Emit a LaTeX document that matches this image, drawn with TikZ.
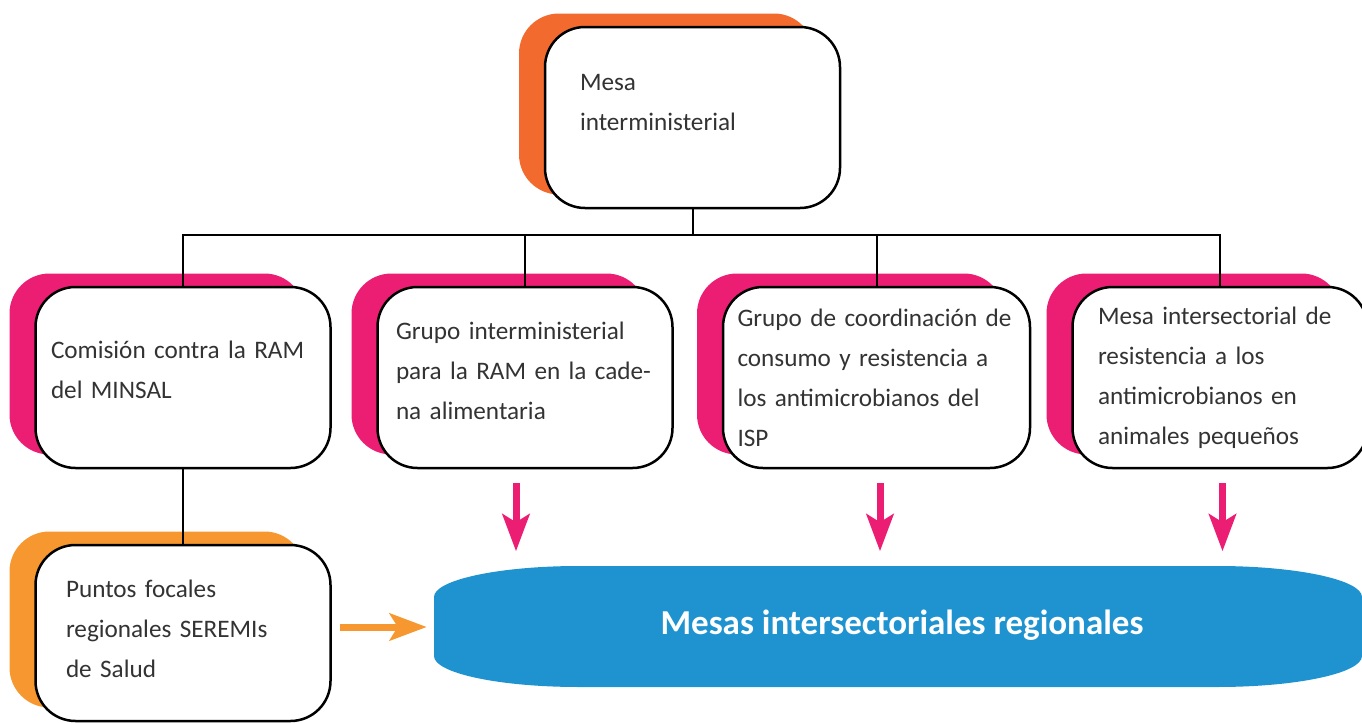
\documentclass[tikz,border=0pt]{standalone}
\usepackage{fontspec}
\setmainfont{Carlito}
\usetikzlibrary{shadows,arrows.meta}
\definecolor{naranja}{HTML}{F26A2D}
\definecolor{rosa}{HTML}{EC1E74}
\definecolor{ambar}{HTML}{F6982F}
\definecolor{azul}{HTML}{1F93D0}
\definecolor{gris}{HTML}{333333}
\tikzset{
  caja/.style={draw=black, line width=1.25pt, fill=white, rounded corners=20pt,
    minimum width=147.5pt, minimum height=90.5pt, inner sep=0pt, align=left,
    text=gris, font=\fontsize{12.6}{20}\selectfont,
    general shadow={fill=#1, shadow xshift=-13pt, shadow yshift=6.75pt}},
  linea/.style={line width=1pt},
  flecha/.style={line width=3.5pt, draw=#1, -{Stealth[length=18.5pt, width=13.5pt, inset=4pt]}}
}
\begin{document}
\begin{tikzpicture}[x=0.5pt, y=-0.5pt]
\useasboundingbox (0,0) rectangle (1362,723);
% mesa y grupos
\node[caja=naranja, text width=112.5pt, text depth=35pt] (mesa) at (692.5,117.5) {Mesa\\interministerial};
\node[caja=rosa, text width=132pt, text depth=28pt] (comision) at (183,377.5) {Comisión contra la RAM\\del MINSAL};
\node[caja=rosa, text width=129pt, text depth=47pt] (cadena) at (525,377.5) {Grupo interministerial\\para la RAM en la cade-\\na alimentaria};
\node[caja=rosa, text width=139pt, minimum width=153.5pt] (isp) at (876.5,377.5) {Grupo de coordinación de\\consumo y resistencia a\\los antimicrobianos del\\ISP};
\node[caja=rosa, text width=122pt] (animales) at (1220,377.5) {Mesa intersectorial de\\resistencia a los\\antimicrobianos en\\animales pequeños};
\node[caja=ambar, text width=117pt, minimum height=88pt, text depth=44pt] (focal) at (183,633) {Puntos focales\\regionales SEREMIs\\de Salud};
% mesas regionales
\fill[azul] (579,566) -- (1217,566) arc[start angle=90, end angle=0, x radius=72.5pt, y radius=15.5pt]
  -- (1362,656) arc[start angle=0, end angle=-90, x radius=72.5pt, y radius=15.5pt]
  -- (579,687) arc[start angle=-90, end angle=-180, x radius=72.5pt, y radius=15.5pt]
  -- (434,597) arc[start angle=180, end angle=90, x radius=72.5pt, y radius=15.5pt] -- cycle;
\node[text=white, font=\bfseries\fontsize{17.5}{21}\selectfont] (regional) at (902,625) {Mesas intersectoriales regionales};
% conectores
\coordinate (bus) at (692.5,235);
\draw[linea] (mesa.south) -- (bus);
\foreach \c in {comision,cadena,isp,animales} \draw[linea] (\c.north) |- (bus);
\draw[linea] (comision.south) -- (focal.north);
\draw[flecha=rosa] ([shift={(-9,14)}]cadena.south) -- ++(0,68);
\draw[flecha=rosa] ([shift={(3.5,14)}]isp.south) -- ++(0,68);
\draw[flecha=rosa] ([shift={(2.5,14)}]animales.south) -- ++(0,68);
\draw[flecha=ambar] ([shift={(8,-6)}]focal.east) -- ++(87,0);
\end{tikzpicture}
\end{document}
